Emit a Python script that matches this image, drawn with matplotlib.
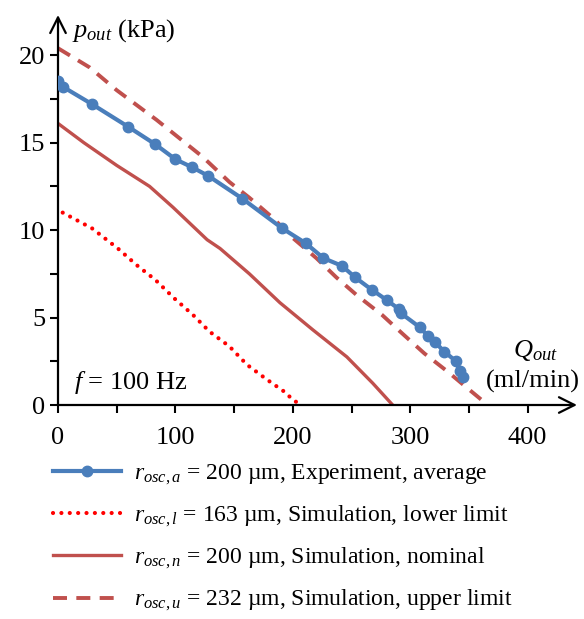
"""Outlet pressure vs. flow rate: experiment vs. simulation limits."""

import matplotlib
matplotlib.use("Agg")
import matplotlib.pyplot as plt

plt.rcParams["font.family"] = "Liberation Serif"
plt.rcParams["mathtext.fontset"] = "custom"
plt.rcParams["mathtext.rm"] = "Liberation Serif"
plt.rcParams["mathtext.it"] = "Liberation Serif:italic"

BLUE = "#4a7ebb"
DRED = "#c0504d"
RED = "#ff0000"

# experiment, average (r_osc,a = 200 um)
exp_q = [0, 4, 29, 60, 83, 100, 114, 128, 157, 191, 211, 226, 242, 253,
         267, 280, 290, 292, 308, 315, 321, 329, 339, 342, 345]
exp_p = [18.5, 18.2, 17.2, 15.9, 14.9, 14.05, 13.6, 13.1, 11.8, 10.1, 9.25,
         8.4, 7.95, 7.3, 6.6, 6.0, 5.5, 5.25, 4.45, 3.95, 3.6, 3.05, 2.5, 1.95, 1.6]

# simulation, lower limit (r_osc,l = 163 um)
low_q = [4, 29, 51, 67, 83, 99, 115, 129, 146, 161, 178, 193, 200, 207]
low_p = [11.0, 10.1, 8.95, 8.0, 7.15, 6.1, 5.15, 4.2, 3.35, 2.3, 1.45, 0.75, 0.3, 0.0]

# simulation, nominal (r_osc,n = 200 um)
nom_q = [0, 22, 50, 78, 98, 127, 138, 163, 189, 217, 246, 268, 285]
nom_p = [16.1, 15.0, 13.7, 12.5, 11.3, 9.45, 8.95, 7.5, 5.85, 4.3, 2.75, 1.25, 0.0]

# simulation, upper limit (r_osc,u = 232 um)
up_q = [0, 27, 50, 84, 123, 146, 163, 183, 200, 220, 237, 255, 276, 293,
        312, 332, 348, 366]
up_p = [20.4, 19.3, 18.0, 16.3, 14.2, 12.75, 11.85, 10.7, 9.55, 8.4, 7.3,
        6.25, 5.15, 4.1, 2.95, 1.9, 1.0, 0.0]

labels = [
    r"$r_{osc,a}$ = 200 µm, Experiment, average",
    r"$r_{osc,l}$ = 163 µm, Simulation, lower limit",
    r"$r_{osc,n}$ = 200 µm, Simulation, nominal",
    r"$r_{osc,u}$ = 232 µm, Simulation, upper limit",
]

fig = plt.figure(figsize=(5.84, 6.19), dpi=100)
ax = fig.add_axes([58 / 584, 214 / 619, 519 / 584, 390 / 619])
ax.set_xlim(0, 442)
ax.set_ylim(0, 22.3)

h_exp, = ax.plot(exp_q, exp_p, color=BLUE, lw=3.0, marker="o", ms=7.5,
                 zorder=4, label=labels[0])
h_low, = ax.plot(low_q, low_p, color=RED, lw=3.0, ls=(0, (0.01, 2.0)),
                 dash_capstyle="round", zorder=3, label=labels[1])
h_nom, = ax.plot(nom_q, nom_p, color=DRED, lw=2.4, zorder=3, label=labels[2])
h_up, = ax.plot(up_q, up_p, color=DRED, lw=2.8, ls=(0, (3.6, 2.4)),
                zorder=3, label=labels[3])

for s in ("top", "right", "left", "bottom"):
    ax.spines[s].set_visible(False)
for tip in [(0, 1), (1, 0)]:
    ax.annotate("", xy=tip, xytext=(0, 0), xycoords="axes fraction",
                arrowprops=dict(arrowstyle="->", lw=1.6, mutation_scale=28,
                                color="black", shrinkA=0, shrinkB=0))

ax.set_xticks([0, 100, 200, 300, 400])
ax.set_yticks([0, 5, 10, 15, 20])
ax.set_xticks([50, 150, 250, 350], minor=True)
ax.set_yticks([2.5, 7.5, 12.5, 17.5], minor=True)
ax.tick_params(which="both", direction="out", length=6, width=1.5,
               labelsize=19)
ax.tick_params(axis="y", pad=3)
ax.tick_params(axis="x", pad=10)

ax.text(12, 21.4, r"$p_{out}$ (kPa)", fontsize=19, va="center", ha="left")
ax.text(407, 3.1, r"$Q_{out}$", fontsize=19, va="center", ha="center",
        clip_on=False)
ax.text(404, 1.35, "(ml/min)", fontsize=19, va="center", ha="center",
        clip_on=False)
ax.text(14, 1.3, r"$f$ = 100 Hz", fontsize=19, va="center", ha="left")

fig.legend(handles=[h_exp, h_low, h_nom, h_up], loc="upper left",
           bbox_to_anchor=(0.075, 0.268), frameon=False, fontsize=17,
           handlelength=2.85, handletextpad=0.55, labelspacing=0.72,
           numpoints=1, borderaxespad=0)

fig.savefig("out.png", dpi=100)
